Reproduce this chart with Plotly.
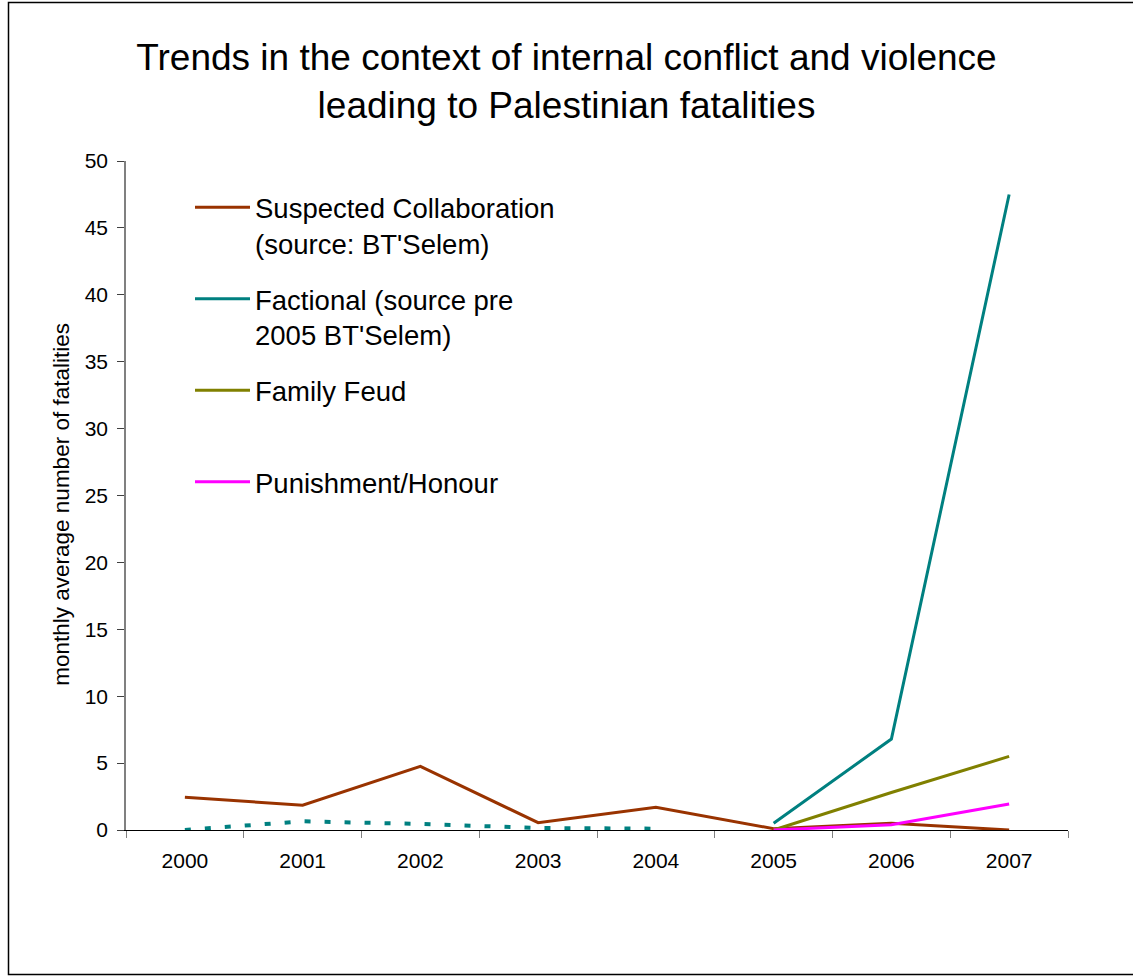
import plotly.graph_objects as go

years = ["2000", "2001", "2002", "2003", "2004", "2005", "2006", "2007"]
suspected = [2.45, 1.85, 4.75, 0.55, 1.7, 0.1, 0.5, 0.0]
factional = [None, None, None, None, None, 0.5, 6.8, 47.5]
factional_pre = [0.0, 0.65, 0.45, 0.15, 0.1, None, None, None]
family_feud = [None, None, None, None, None, 0.0, 2.8, 5.5]
punishment = [None, None, None, None, None, 0.0, 0.4, 1.95]

names = ["Suspected Collaboration<br>(source: BT'Selem)",
         "Factional (source pre<br>2005 BT'Selem)",
         "Family Feud<br> ",
         "Punishment/Honour<br> "]
colors = ["#993300", "#008080", "#808000", "#FF00FF"]
y_title = "monthly average number of fatalities"
chart_title = "Trends in the context of internal conflict and violence<br>leading to Palestinian fatalities"

FONT = "Liberation Sans, Arial, sans-serif"

fig = go.Figure()
series = [suspected, factional, family_feud, punishment]
for i, (vals, nm, col) in enumerate(zip(series, names, colors)):
    fig.add_trace(go.Scatter(x=years, y=vals, name=nm, mode="lines",
                             line=dict(color=col, width=3),
                             legendgroup=f"g{i}", connectgaps=False))
fig.add_trace(go.Scatter(x=years, y=factional_pre, mode="lines", showlegend=False,
                         line=dict(color="#008080", width=4, dash="6px,14px")))

W, H = 1133, 977
L, R, T, B = 126, 1068, 161, 830.5
pw, ph = R - L, B - T

def px_x(p):
    return (p - L) / pw

def px_y(p):
    return (B - p) / ph

fig.update_layout(
    width=W, height=H,
    margin=dict(l=L, r=W - R, t=T, b=H - B, pad=0),
    paper_bgcolor="white", plot_bgcolor="white",
    font=dict(family=FONT, color="black", size=21),
    title=dict(text=chart_title,
               x=0.5, xref="container", xanchor="center",
               y=1 - 69.5 / H, yref="container", yanchor="middle",
               font=dict(size=37, family=FONT, color="black")),
    legend=dict(x=px_x(190), y=px_y(183), xanchor="left", yanchor="top",
                font=dict(size=27.5, family=FONT, color="black"),
                bgcolor="rgba(0,0,0,0)", valign="top", tracegroupgap=17,
                itemwidth=55),
    xaxis=dict(type="category", range=[-0.5, 7.5], showgrid=False,
               showline=True, linecolor="black", linewidth=1,
               ticks="outside", tickson="boundaries", ticklen=7,
               tickcolor="#808080", ticklabelstandoff=12,
               tickfont=dict(size=21, family=FONT, color="black")),
    yaxis=dict(range=[0, 50], dtick=5, showgrid=False, zeroline=False,
               showline=True, linecolor="#808080", linewidth=1.5,
               ticks="outside", ticklen=7, tickcolor="#404040",
               ticklabelstandoff=5,
               tickfont=dict(size=21, family=FONT, color="black")),
    annotations=[dict(text=y_title, xref="paper", yref="paper",
                      x=px_x(62), y=px_y(505), xanchor="center", yanchor="middle",
                      textangle=-90, showarrow=False,
                      font=dict(size=22.5, family=FONT, color="black"))],
    shapes=[dict(type="rect", xref="paper", yref="paper",
                 x0=px_x(8.5), x1=px_x(1145), y0=px_y(975), y1=px_y(2.5),
                 line=dict(color="black", width=1.5), fillcolor="rgba(0,0,0,0)",
                 layer="below")],
)

fig.write_html("out.html")
